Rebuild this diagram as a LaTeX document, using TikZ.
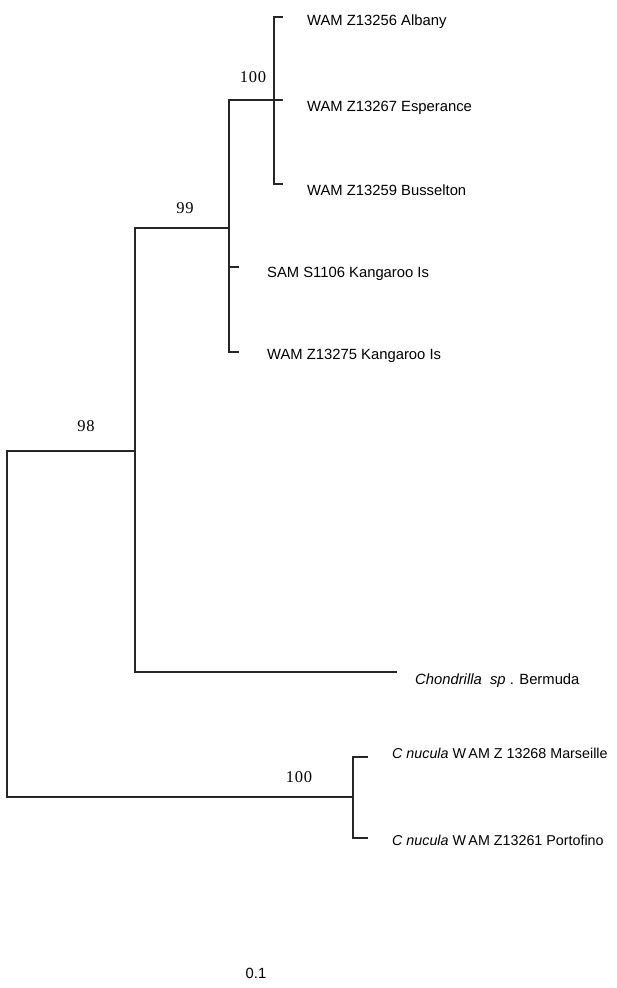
\documentclass[tikz,border=0pt]{standalone}
\usepackage{fontspec}
\setmainfont{Liberation Serif}
\setsansfont{Liberation Sans}
\begin{document}
\begin{tikzpicture}[x=1pt,y=-1pt,
  branch/.style={line width=1.2pt, black!85},
  leaf/.style={anchor=base west, inner sep=0pt, font=\sffamily\fontsize{14.8}{14.8}\selectfont},
  smallleaf/.style={leaf, font=\sffamily\fontsize{14.3}{14.3}\selectfont},
  boot/.style={anchor=base, inner sep=0pt, font=\fontsize{16.5}{16.5}\selectfont\addfontfeature{LetterSpace=5}}]
\useasboundingbox (0,0) rectangle (616,988);
% internal nodes
\coordinate (root) at (7,624);
\coordinate (n98) at (135,451);
\coordinate (n99) at (229,228);
\coordinate (n100a) at (274,100);
\coordinate (n100b) at (353,797);
% tips
\coordinate (tA) at (283,17);
\coordinate (tE) at (283,100);
\coordinate (tB) at (283,184);
\coordinate (tS) at (239,267);
\coordinate (tK) at (239,352);
\coordinate (tC) at (397,672);
\coordinate (tM) at (368,757);
\coordinate (tP) at (368,838);
% branches
\draw[branch] (root) |- (n98);
\draw[branch] (root) |- (n100b);
\draw[branch] (n98) |- (n99);
\draw[branch] (n98) |- (tC);
\draw[branch] (n99) |- (n100a);
\draw[branch] (n99) |- (tS);
\draw[branch] (n99) |- (tK);
\draw[branch] (n100a) |- (tA);
\draw[branch] (n100a) |- (tE);
\draw[branch] (n100a) |- (tB);
\draw[branch] (n100b) |- (tM);
\draw[branch] (n100b) |- (tP);
% leaf labels
\node[leaf] (lA) at (307,25) {WAM Z13256 Albany};
\node[leaf] (lE) at (307,111) {WAM Z13267 Esperance};
\node[leaf] (lB) at (307,195) {WAM Z13259 Busselton};
\node[leaf] (lS) at (267,277) {SAM S1106 Kangaroo Is};
\node[leaf] (lK) at (267,359) {WAM Z13275 Kangaroo Is};
\node[leaf] (lC) at (415,684) {\itshape Chondrilla\ \ sp\upshape\ . Bermuda};
\node[smallleaf] (lM) at (392,758) {\itshape C nucula\upshape\ W\,AM Z 13268 Marseille};
\node[smallleaf] (lP) at (392,845) {\itshape C nucula\upshape\ W\,AM Z13261 Portofino};
% bootstrap values
\node[boot] (b100a) at (253,82) {100};
\node[boot] (b99) at (185,213) {99};
\node[boot] (b98) at (86,431) {98};
\node[boot] (b100b) at (299,782) {100};
% scale label
\node[leaf, anchor=base] (scale) at (256,978) {0.1};
\end{tikzpicture}
\end{document}
